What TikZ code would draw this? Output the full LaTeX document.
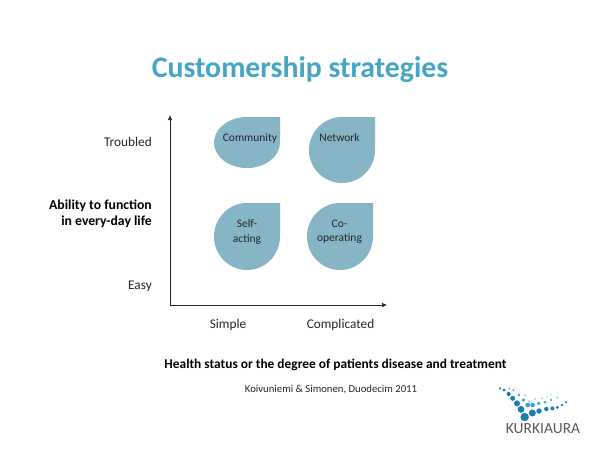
\documentclass[tikz,border=0pt]{standalone}
\usepackage{fontspec}
\setmainfont{Carlito}
\definecolor{drop}{HTML}{86B5C5}
\definecolor{ttl}{HTML}{45A5C4}
\definecolor{dk}{HTML}{1B7FB0}
\definecolor{md}{HTML}{35A3CF}
\definecolor{lt}{HTML}{8FD0E8}
\definecolor{lbl}{HTML}{262626}
\usetikzlibrary{arrows.meta}
\tikzset{
 lab/.style={font=\fontsize{13.3}{15}\selectfont,text=lbl,align=center,inner sep=0},
 blab/.style={font=\fontsize{13.4}{16}\selectfont\bfseries,text=black,inner sep=0},
 dlab/.style={font=\fontsize{11.5}{14.5}\selectfont,text=lbl,align=center,inner sep=0},
 axisline/.style={draw=black!85,line width=0.7pt,-{Latex[length=5pt,width=4.5pt]}},
}
\newcommand{\tear}[4]{% x0,y0,w,h
 \fill[drop] (#1+#3,#2) -- (#1+#3,#2+#4/2) arc[start angle=0,delta angle=270,x radius=#3/2,y radius=#4/2] -- cycle;
}
\begin{document}
\begin{tikzpicture}[x=1pt,y=-1pt]
\useasboundingbox (0,0) rectangle (600,450);
\fill[white] (0,0) rectangle (600,450);
\node[font=\fontsize{29.8}{34}\selectfont\bfseries,text=ttl,inner sep=0] (title) at (300,70) {Customership strategies};
\coordinate (o) at (170,305);
\coordinate (ytop) at (170,115);
\coordinate (xend) at (387,305);
\draw[axisline] (o) -- (ytop);
\draw[axisline] (o) -- (xend);
\tear{214}{117}{66}{51}
\tear{309}{117}{66}{66}
\tear{214}{203}{66}{67}
\tear{307}{203}{66}{67}
\node[dlab] (c) at (250,138) {Community};
\node[dlab] (n) at (339.5,137.5) {Network};
\node[dlab] (s) at (247,232) {Self-\\acting};
\node[dlab] (co) at (339.5,232) {Co-\\operating};
\node[lab,anchor=east] (t) at (152,141.5) {Troubled};
\node[lab,anchor=east] (e) at (152,286.5) {Easy};
\node[font=\fontsize{13.7}{16}\selectfont\bfseries,text=black,inner sep=0,anchor=east,align=right] (a) at (152,213.5) {Ability to function\\in every-day life};
\node[lab] (si) at (228,324.5) {Simple};
\node[lab] (cm) at (340.5,324.5) {Complicated};
\node[blab] (h) at (335.5,364.5) {Health status or the degree of patients disease and treatment};
\node[font=\fontsize{10.7}{12}\selectfont,text=lbl,inner sep=0] (k) at (331,389) {Koivuniemi \& Simonen, Duodecim 2011};
% logo
\foreach \x/\y/\r in {60/40/1.2,72/45/1.6,86/57/2.1,98/70/2.5,111/85/3,123/103/3.4,134/126/4.2,157/114/3.5,177/108/2.7,199/102/2.2,217/100/2,232/97/1.6,246/90/1.4,258/82/1.1}
  \fill[dk] ({480+\x/3},{375+\y/3}) circle (\r);
\foreach \x/\y/\r in {88/40/.8,100/46/1,117/60/1.4,130/75/1.8,143/90/2.3,158/90/2.2,176/85/1.8,195/82/1.4,213/75/1.1,232/68/.8}
  \fill[md] ({480+\x/3},{375+\y/3}) circle (\r);
\foreach \x/\y/\r in {105/40/.6,120/45/.7,135/60/1,148/80/1.4,165/72/1.2,185/70/1,200/65/.8,212/58/.6}
  \fill[lt] ({480+\x/3},{375+\y/3}) circle (\r);
\node[font=\fontsize{15.5}{17}\selectfont,text=black!65,inner sep=0] (logo) at (543,429) {KURKIAURA};
\end{tikzpicture}
\end{document}
